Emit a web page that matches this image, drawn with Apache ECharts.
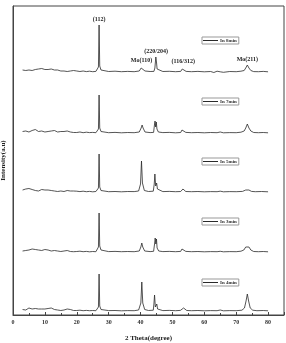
<!DOCTYPE html>
<html>
<head>
<meta charset="utf-8">
<script src="https://cdn.jsdelivr.net/npm/echarts@6/dist/echarts.min.js"></script>
<style>
  html, body { margin: 0; padding: 0; background: #fff; }
  #chart { width: 286px; height: 343px; }
</style>
</head>
<body>
<div id="chart"></div>
<script>
// XRD patterns, [2theta, intensity above own baseline]
const names = ['In 8min', 'In 7min', 'In 5min', 'In 3min', 'In 4min']
const offsets = [243, 182, 123, 63, 4]

const trace8 = [
  [3, 2], [3.5, 3.5], [4, 1.5], [4.5, 3], [5, 2], [5.5, 4], [6, 1.5], [6.5, 3], [7, 2.5], [7.5, 1],
  [8, 3], [8.5, 2], [9, 3.5], [9.5, 1.5], [10, 2.5], [10.5, 1], [11, 2.5], [11.5, 2], [12, 3], [12.5, 1.5],
  [13, 2], [13.5, 1], [14, 2], [14.5, 1.5], [15, 1], [15.5, 2], [16, 1], [16.5, 1.5], [17, 0.5], [17.5, 1.5],
  [18, 1], [18.5, 0.5], [19, 1.5], [19.5, 0.5], [20, 1], [21, 0.5], [22, 1], [23, 0.4], [24, 0.8], [25, 0.3],
  [26, 0.6], [26.5, 1], [26.8, 5], [27.0, 47], [27.2, 6], [27.6, 2], [28.2, 1], [30, 0.5], [32, 0.8], [34, 0.3],
  [36, 0.6], [38, 0.3], [39.6, 1], [40.2, 4], [40.5, 6], [40.8, 4], [41.4, 1], [43, 0.5], [44.2, 0.6], [44.5, 4],
  [44.8, 15], [45.0, 10], [45.2, 3], [45.7, 1], [47, 0.5], [49, 0.7], [51, 0.3], [52.6, 0.6], [53.1, 3], [53.4, 5],
  [53.7, 3], [54.3, 0.6], [56, 0.3], [58, 0.6], [60, 0.2], [62, 0.5], [63, -0.5], [64, 0.8], [65, 0.2], [66, -0.3],
  [68, 0.5], [70, 0.3], [71.5, 0.8], [72.5, 1.5], [73.0, 4], [73.5, 7], [74.0, 4], [74.6, 1.5], [75.5, 0.4], [77, 0.3],
  [78.5, 0.6], [80, 0.2]
]
const trace7 = [
  [3, 1.5], [3.5, 3], [4, 2], [4.5, 3.5], [5, 1], [5.5, 3], [6, 2.5], [6.5, 1.5], [7, 3.5], [7.5, 2],
  [8, 1.5], [8.5, 3], [9, 2], [9.5, 3], [10, 1], [10.5, 2.5], [11, 1.5], [11.5, 3], [12, 2], [12.5, 1],
  [13, 2.5], [13.5, 1.5], [14, 1], [14.5, 2], [15, 1.5], [15.5, 0.5], [16, 1.5], [16.5, 1], [17, 2], [17.5, 0.5],
  [18, 1], [18.5, 1.5], [19, 0.5], [19.5, 1], [20, 0.5], [21, 1], [22, 0.3], [23, 0.8], [24, 0.4], [25, 0.6],
  [26, 0.3], [26.5, 1], [26.8, 4], [27.0, 38], [27.2, 5], [27.6, 1.5], [28.2, 0.8], [30, 0.3], [32, 0.6], [34, 0.2],
  [36, 0.5], [38, 0.3], [39.6, 1], [40.2, 5], [40.5, 8], [40.8, 5], [41.4, 1], [43, 0.4], [44.1, 0.6], [44.4, 9],
  [44.55, 12], [44.75, 6], [44.95, 11], [45.15, 4], [45.6, 1], [47, 0.4], [49, 0.6], [51, 0.2], [52.6, 0.5], [53.0, 3],
  [53.3, 5], [53.6, 3], [54.2, 0.6], [56, 0.3], [58, 0.5], [60, 0.2], [62, 0.5], [64, 0.3], [65, 1], [66, 0.2],
  [68, 0.4], [70, 0.3], [71.5, 0.8], [72.5, 2], [73.0, 5], [73.5, 9], [74.0, 5], [74.6, 2], [75.5, 0.5], [77, 0.3],
  [78.5, 0.5], [80, 0.2]
]
const trace5 = [
  [3, 2], [3.5, 1], [4, 3], [4.5, 2], [5, 3.5], [5.5, 1.5], [6, 2.5], [6.5, 3], [7, 1.5], [7.5, 2.5],
  [8, 1], [8.5, 2], [9, 2.5], [9.5, 1], [10, 2], [10.5, 1.5], [11, 2], [11.5, 1], [12, 1.5], [12.5, 2],
  [13, 1], [13.5, 1.5], [14, 0.5], [14.5, 1.5], [15, 1], [15.5, 1.5], [16, 0.5], [16.5, 1], [17, 1.5], [17.5, 0.5],
  [18, 1], [18.5, 0.5], [19, 1], [19.5, 0.3], [20, 0.8], [21, 0.4], [22, 0.8], [23, 0.3], [24, 0.6], [25, 0.2],
  [26, 0.5], [26.5, 1], [26.8, 4], [27.0, 38], [27.2, 5], [27.6, 1.5], [28.2, 0.8], [30, 0.3], [32, 0.5], [34, 0.2],
  [36, 0.5], [38, 0.4], [39.4, 1], [40.0, 8], [40.3, 31], [40.6, 9], [41.2, 1.5], [42.5, 0.5], [44.0, 0.8], [44.3, 8],
  [44.5, 18], [44.75, 6], [45.05, 9], [45.3, 3], [45.8, 1], [47, 0.4], [49, 0.6], [51, 0.3], [52.6, 0.5], [53.0, 2],
  [53.3, 3], [53.6, 2], [54.2, 0.5], [56, 0.3], [58, 0.5], [60, 0.2], [62, 0.4], [64, 0.3], [65, 0.8], [66, 0.2],
  [68, 0.4], [70, 0.3], [72, 0.6], [73.0, 2], [73.5, 4], [74.0, 2], [74.8, 0.6], [76, 0.3], [78, 0.5], [80, 0.2]
]
const trace3 = [
  [3, 1], [3.5, 2.5], [4, 1.5], [4.5, 3], [5, 2], [5.5, 1], [6, 3], [6.5, 2], [7, 2.5], [7.5, 1],
  [8, 2], [8.5, 3], [9, 1.5], [9.5, 2], [10, 2.5], [10.5, 1.5], [11, 2], [11.5, 3], [12, 1], [12.5, 2],
  [13, 1.5], [13.5, 2.5], [14, 1], [14.5, 1.5], [15, 0.5], [15.5, 1.5], [16, 1], [16.5, 0.5], [17, 1.5], [17.5, 1],
  [18, 0.5], [18.5, 1], [19, 0.3], [19.5, 1], [20, 0.5], [21, 0.8], [22, 0.3], [23, 0.6], [24, 0.2], [25, 0.5],
  [26, 0.3], [26.5, 1], [26.8, 5], [27.0, 39], [27.2, 6], [27.6, 2], [28.2, 1], [30, 0.4], [32, 0.6], [34, 0.3],
  [36, 0.5], [38, 0.3], [39.6, 1], [40.1, 5], [40.4, 9], [40.7, 5], [41.3, 1], [43, 0.4], [44.1, 0.7], [44.4, 8],
  [44.6, 14], [44.8, 8], [45.0, 13], [45.2, 4], [45.7, 1], [47, 0.4], [49, 0.6], [51, 0.3], [52.6, 0.6], [53.0, 3],
  [53.3, 5], [53.6, 3], [54.2, 0.6], [56, 0.3], [58, 0.5], [60, 0.2], [62, 0.4], [64, 0.3], [65, 0.7], [66, 0.2],
  [68, 0.4], [70, 0.3], [71.5, 0.8], [72.4, 2], [73.0, 5], [73.5, 7], [74.0, 5], [74.6, 2], [75.5, 0.5], [77, 0.3],
  [78.5, 0.5], [80, 0.2]
]
const trace4 = [
  [3, 1.5], [3.5, 2.5], [4, 1], [4.5, 2], [5, 3], [5.5, 1.5], [6, 2], [6.5, 1], [7, 2.5], [7.5, 1.5],
  [8, 2], [8.5, 1], [9, 2], [9.5, 1.5], [10, 2], [10.5, 1], [11, 2.5], [11.5, 3.5], [12, 3], [12.5, 2.5],
  [13, 1.5], [13.5, 2], [14, 1], [14.5, 1.5], [15, 0.5], [15.5, 1.5], [16, 1], [16.5, 1.5], [17, 2], [17.5, 2.5],
  [18, 1.5], [18.5, 1], [19, 0.5], [19.5, 1], [20, 0.5], [21, 0.8], [22, 0.3], [23, 0.6], [24, 0.3], [25, 0.5],
  [26, 0.3], [26.5, 1], [26.8, 4], [27.0, 37], [27.2, 5], [27.6, 1.5], [28.2, 0.8], [30, 0.4], [32, 0.5], [34, 0.2],
  [36, 0.4], [38, 0.3], [39.4, 1], [40.1, 8], [40.4, 29], [40.7, 8], [41.3, 1.5], [42.5, 0.5], [44.0, 0.8], [44.2, 7],
  [44.4, 16], [44.65, 4], [45.1, 7], [45.35, 2], [45.8, 0.8], [47, 0.4], [49, 0.6], [51, 0.3], [52.5, 0.6], [52.9, 2],
  [53.1, 1.5], [53.5, 3], [53.9, 1.5], [54.5, 0.5], [56, 0.3], [58, 0.5], [60, 0.2], [62, 0.4], [64, 0.3], [65, 1],
  [66, 0.2], [68, 0.4], [70, 0.3], [71.8, 0.8], [72.6, 3], [73.1, 10], [73.5, 17], [73.9, 10], [74.4, 3], [75.2, 0.8],
  [76.5, 0.3], [78.5, 0.5], [80, 0.2]
]
const traces = [trace8, trace7, trace5, trace3, trace4]

const peakLabels = ['(112)', 'Mo(110)', '(220/204)', '(116/312)', 'Mo(211)']
const peakX = [27.0, 40.3, 44.9, 53.4, 73.5]
const peakTop = [47, 6, 15, 5, 7]
const legendTops = [37, 98, 158, 218, 279]

const chart = echarts.init(document.getElementById('chart'))
const serif = 'Liberation Serif'

const series = traces.map((tr, i) => {
  const s = {
    name: names[i],
    type: 'line',
    data: tr.map(p => [p[0], p[1] + offsets[i]]),
    showSymbol: false,
    symbol: 'none',
    silent: true,
    lineStyle: { color: '#2a2a2a', width: 0.8 },
    itemStyle: { color: '#2a2a2a' }
  }
  if (i === 0) {
    s.markPoint = {
      symbol: 'circle',
      symbolSize: 0,
      label: {
        show: true,
        position: 'top',
        distance: 3,
        color: '#222',
        fontFamily: serif,
        fontWeight: 'bold',
        fontSize: 6,
        formatter: p => p.name
      },
      data: peakLabels.map((t, k) => ({ name: t, coord: [peakX[k], peakTop[k] + offsets[0]] }))
    }
  }
  return s
})

chart.setOption({
  animation: false,
  backgroundColor: '#fff',
  grid: {
    left: 13, right: 2, top: 6, bottom: 28,
    outerBoundsMode: 'none',
    containLabel: false,
    show: true, borderColor: '#444', borderWidth: 1
  },
  legend: names.map((n, i) => ({
    data: [n],
    left: 202,
    top: legendTops[i],
    orient: 'horizontal',
    icon: 'rect',
    itemWidth: 15,
    itemHeight: 1,
    padding: [1, 2, 1, 1],
    itemGap: 2,
    borderColor: '#999',
    borderWidth: 1,
    selectedMode: false,
    textStyle: { fontSize: 5, fontFamily: serif, fontWeight: 'bold', color: '#333', padding: [0, 0, 0, -3] }
  })),
  xAxis: {
    type: 'value',
    min: 0,
    max: 85,
    interval: 10,
    name: '2 Theta(degree)',
    nameLocation: 'middle',
    nameGap: 20,
    nameTextStyle: { fontFamily: serif, fontWeight: 'bold', fontSize: 7, color: '#222' },
    axisLine: { lineStyle: { color: '#444', width: 1 } },
    axisTick: { inside: true, length: 3, lineStyle: { color: '#444' } },
    minorTick: { show: true, splitNumber: 2, length: 2, lineStyle: { color: '#444' } },
    axisLabel: {
      fontFamily: serif, fontWeight: 'bold', fontSize: 6, color: '#333', margin: 4,
      showMaxLabel: false,
      formatter: v => (v > 80 ? '' : String(v))
    },
    splitLine: { show: false }
  },
  yAxis: {
    type: 'value',
    min: 0,
    max: 309,
    name: 'Intensity(a.u)',
    nameLocation: 'middle',
    nameGap: 6,
    nameTextStyle: { fontFamily: serif, fontWeight: 'bold', fontSize: 7, color: '#222' },
    axisLine: { show: true, lineStyle: { color: '#444' } },
    axisTick: { show: false },
    axisLabel: { show: false },
    splitLine: { show: false }
  },
  series: series
})
</script>
</body>
</html>
